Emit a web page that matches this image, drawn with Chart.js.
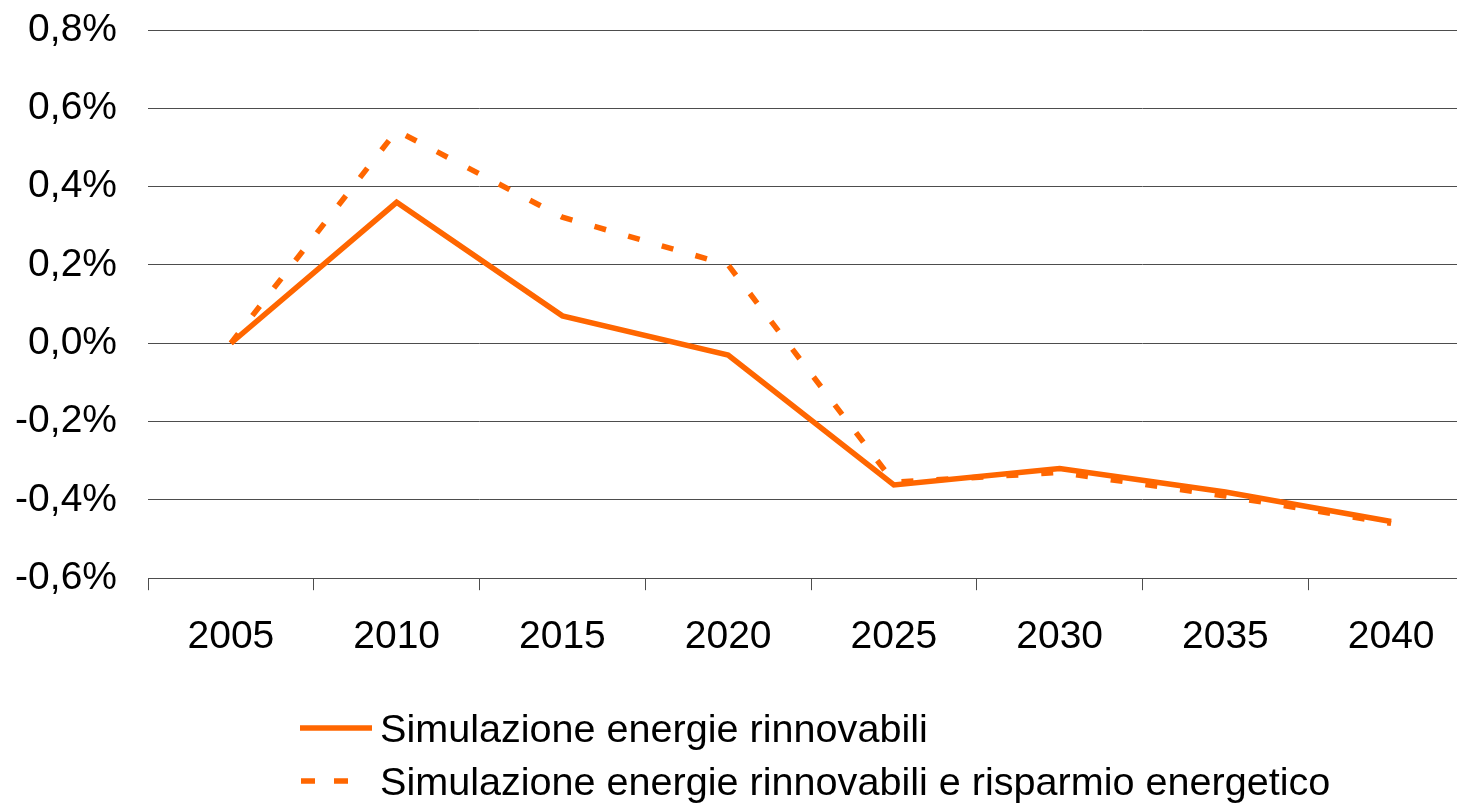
<!DOCTYPE html>
<html>
<head>
<meta charset="utf-8">
<script src="https://cdn.jsdelivr.net/npm/chart.js@4/dist/chart.umd.min.js"></script>
<style>
  html, body { margin: 0; padding: 0; background: #fff; overflow: hidden; width: 1457px; height: 805px; }
  #wrap { position: absolute; left: 0; top: 0; width: 1474px; height: 805px; }
  .leg { position: absolute; left: 300px; height: 40px; display: flex; align-items: center;
         font-family: "Liberation Sans", Arial, sans-serif; font-size: 39.6px; line-height: 40px; color: #000; white-space: nowrap; }
  .leg svg { width: 72px; height: 10px; margin-right: 8px; flex: none; }
</style>
</head>
<body>
<div id="wrap"><canvas id="c"></canvas></div>
<div class="leg" style="top:708px"><svg viewBox="0 0 72 10"><line x1="0" y1="5" x2="72" y2="5" stroke="#FF6600" stroke-width="5.5"/></svg><span id="l1"></span></div>
<div class="leg" style="top:761px"><svg viewBox="0 0 72 10"><line x1="1" y1="5" x2="48" y2="5" stroke="#FF6600" stroke-width="5.5" stroke-dasharray="14 19"/></svg><span id="l2"></span></div>
<script>
const categories = ['2005', '2010', '2015', '2020', '2025', '2030', '2035', '2040'];
const seriesNames = ['Simulazione energie rinnovabili', 'Simulazione energie rinnovabili e risparmio energetico'];
const rinnovabili = [0.0, 0.36, 0.07, -0.03, -0.362, -0.32, -0.38, -0.455];
const rinnovabiliRisparmio = [0.0, 0.543, 0.322, 0.20, -0.355, -0.33, -0.39, -0.46];
const yTickLabels = ['-0,6%', '-0,4%', '-0,2%', '0,0%', '0,2%', '0,4%', '0,6%', '0,8%'];

document.getElementById('l1').textContent = seriesNames[0];
document.getElementById('l2').textContent = seriesNames[1];

const FONT = { family: '"Liberation Sans", Arial, sans-serif', size: 39 };
const ORANGE = '#FF6600';

new Chart(document.getElementById('c'), {
  type: 'line',
  data: {
    labels: categories,
    datasets: [
      { label: seriesNames[0], data: rinnovabili, borderColor: ORANGE, backgroundColor: ORANGE,
        borderWidth: 5.5, pointRadius: 0, tension: 0, borderJoinStyle: 'miter', borderCapStyle: 'butt', fill: false },
      { label: seriesNames[1], data: rinnovabiliRisparmio, borderColor: ORANGE, backgroundColor: ORANGE,
        borderWidth: 5.5, borderDash: [12, 23], pointRadius: 0, tension: 0, borderJoinStyle: 'miter', borderCapStyle: 'butt', fill: false }
    ]
  },
  options: {
    responsive: true,
    maintainAspectRatio: false,
    animation: false,
    layout: { padding: { top: 0, bottom: 120, left: 0, right: 0 } },
    plugins: { legend: { display: false }, tooltip: { enabled: false } },
    scales: {
      x: {
        offset: true,
        grid: { offset: true, drawOnChartArea: false, drawTicks: true, tickLength: 12, color: '#4d4d4d', lineWidth: 1 },
        border: { display: true, color: '#4d4d4d', width: 1 },
        ticks: { font: FONT, color: '#000', padding: 24, maxRotation: 0, autoSkip: false }
      },
      y: {
        min: -0.6, max: 0.8,
        ticks: { stepSize: 0.2, font: FONT, color: '#000', padding: 31,
                 callback: (v, i) => yTickLabels[i] },
        grid: { drawTicks: false, color: '#4d4d4d', lineWidth: 1 },
        border: { display: false },
        afterFit: (s) => { s.width = 148; s.paddingTop = 30; s.paddingBottom = 0; }
      }
    }
  }
});
</script>
</body>
</html>
